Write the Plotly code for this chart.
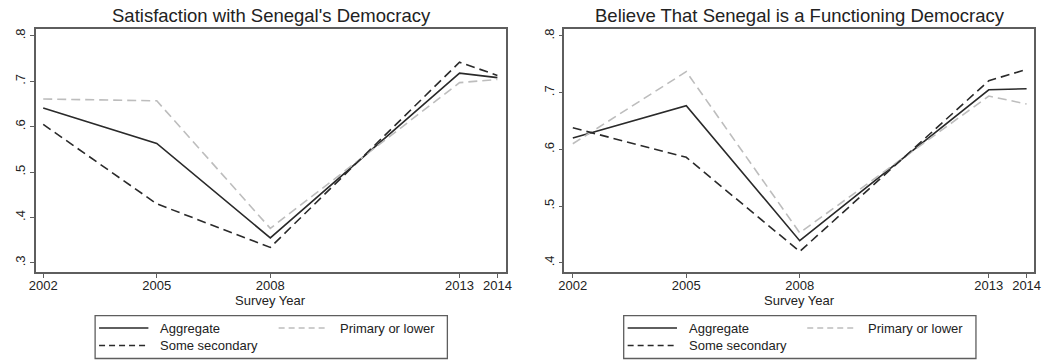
import plotly.graph_objects as go

# Survey rounds
years = [2002, 2005, 2008, 2013, 2014]

# Panel 1: satisfaction with democracy (share of respondents)
sat_aggregate = [0.641, 0.563, 0.355, 0.718, 0.708]
sat_primary = [0.661, 0.657, 0.376, 0.697, 0.704]
sat_secondary = [0.605, 0.430, 0.334, 0.742, 0.713]

# Panel 2: believe Senegal is a functioning democracy
fun_aggregate = [0.620, 0.677, 0.439, 0.705, 0.707]
fun_primary = [0.610, 0.737, 0.453, 0.694, 0.680]
fun_secondary = [0.638, 0.586, 0.420, 0.721, 0.741]

titles = ["Satisfaction with Senegal's Democracy",
          "Believe That Senegal is a Functioning Democracy"]
series_names = ["Aggregate", "Primary or lower", "Some secondary"]
left_yticks = [0.3, 0.4, 0.5, 0.6, 0.7, 0.8]
right_yticks = [0.4, 0.5, 0.6, 0.7, 0.8]

W, H = 1054, 361
FONT = "Liberation Sans, Arial, Helvetica, sans-serif"
TXT = "#222222"
FRAME = "#5e5e5e"

styles = {
    "Aggregate": dict(color="#2a2a2a", width=1.6, dash="solid"),
    "Primary or lower": dict(color="#bdbdbd", width=1.6, dash="9px,5px"),
    "Some secondary": dict(color="#2a2a2a", width=1.6, dash="9px,5px"),
}
legend_dash = {"Aggregate": "solid", "Primary or lower": "6px,4px",
               "Some secondary": "6px,4px"}

# panel domains in pixels (left, right)
panels_px = [(29.3, 505.7), (565.0, 1041.0)]
y_top_px, y_bot_px = 28.3, 271.7

def px_x(p):
    return p / W

def px_y(p):
    return 1 - p / H

fig = go.Figure()

panel_data = [
    (sat_aggregate, sat_primary, sat_secondary),
    (fun_aggregate, fun_primary, fun_secondary),
]

for i, (agg, pri, sec) in enumerate(panel_data):
    xa = "x" if i == 0 else "x2"
    ya = "y" if i == 0 else "y2"
    for name, vals in zip(series_names, (agg, pri, sec)):
        st = styles[name]
        fig.add_trace(go.Scatter(
            x=years, y=vals, mode="lines", name=name,
            line=dict(color=st["color"], width=st["width"], dash=st["dash"]),
            xaxis=xa, yaxis=ya, showlegend=False, hoverinfo="skip"))

axis_common = dict(
    showgrid=False, zeroline=False, showline=True, mirror=True,
    linecolor=FRAME, linewidth=1.5, ticks="outside", ticklen=4,
    tickcolor=FRAME, tickwidth=1.2,
    tickfont=dict(family=FONT, size=13, color=TXT),
)

def yfmt(v):
    return ("%.1f" % v).lstrip("0")

xaxis_extra = dict(tickvals=years, ticktext=[str(y) for y in years],
                   ticklabelstandoff=-3)

layout = dict(
    width=W, height=H,
    margin=dict(l=0, r=0, t=0, b=0),
    paper_bgcolor="white", plot_bgcolor="white",
    showlegend=False,
    xaxis=dict(domain=[px_x(panels_px[0][0]), px_x(panels_px[0][1])],
               range=[2001.807, 2014.227], anchor="y",
               **xaxis_extra, **axis_common),
    yaxis=dict(domain=[px_y(y_bot_px), px_y(y_top_px)],
               range=[0.280, 0.8147], tickvals=left_yticks,
               ticktext=[yfmt(v) for v in left_yticks], tickangle=-90,
               anchor="x", **axis_common),
    xaxis2=dict(domain=[px_x(panels_px[1][0]), px_x(panels_px[1][1])],
                range=[2001.78, 2014.2], anchor="y2",
                **xaxis_extra, **axis_common),
    yaxis2=dict(domain=[px_y(y_bot_px), px_y(y_top_px)],
                range=[0.384, 0.8118], tickvals=right_yticks,
                ticktext=[yfmt(v) for v in right_yticks], tickangle=-90,
                anchor="x2", **axis_common),
)
fig.update_layout(**layout)

annotations = []
shapes = []
for i, (pl, pr) in enumerate(panels_px):
    cx = (pl + pr) / 2
    # panel title
    annotations.append(dict(
        text=titles[i], x=px_x(cx + 1), y=px_y(15), xref="paper", yref="paper",
        xanchor="center", yanchor="middle", showarrow=False,
        font=dict(family=FONT, size=18.5, color=TXT)))
    # x-axis title
    annotations.append(dict(
        text="Survey Year", x=px_x(cx), y=px_y(300), xref="paper", yref="paper",
        xanchor="center", yanchor="middle", showarrow=False,
        font=dict(family=FONT, size=13, color=TXT)))

    # legend box beneath each panel
    bl = pl + 60.0
    br = pl + 417.0
    bt, bb = 315.5, 358.5
    shapes.append(dict(type="rect", xref="paper", yref="paper",
                       x0=px_x(bl), x1=px_x(br), y0=px_y(bb), y1=px_y(bt),
                       line=dict(color=FRAME, width=1.3), fillcolor="white",
                       layer="below"))
    entries = [
        ("Aggregate", bl + 4, 328.0),
        ("Primary or lower", bl + 186, 328.0),
        ("Some secondary", bl + 4, 345.5),
    ]
    for name, kx, ky in entries:
        st = styles[name]
        shapes.append(dict(type="line", xref="paper", yref="paper",
                           x0=px_x(kx), x1=px_x(kx + 50), y0=px_y(ky), y1=px_y(ky),
                           line=dict(color=st["color"], width=1.5,
                                     dash=legend_dash[name])))
        annotations.append(dict(
            text=name, x=px_x(kx + 60), y=px_y(ky), xref="paper", yref="paper",
            xanchor="left", yanchor="middle", showarrow=False,
            font=dict(family=FONT, size=13, color=TXT)))

fig.update_layout(annotations=annotations, shapes=shapes)

fig.write_html("out.html")
